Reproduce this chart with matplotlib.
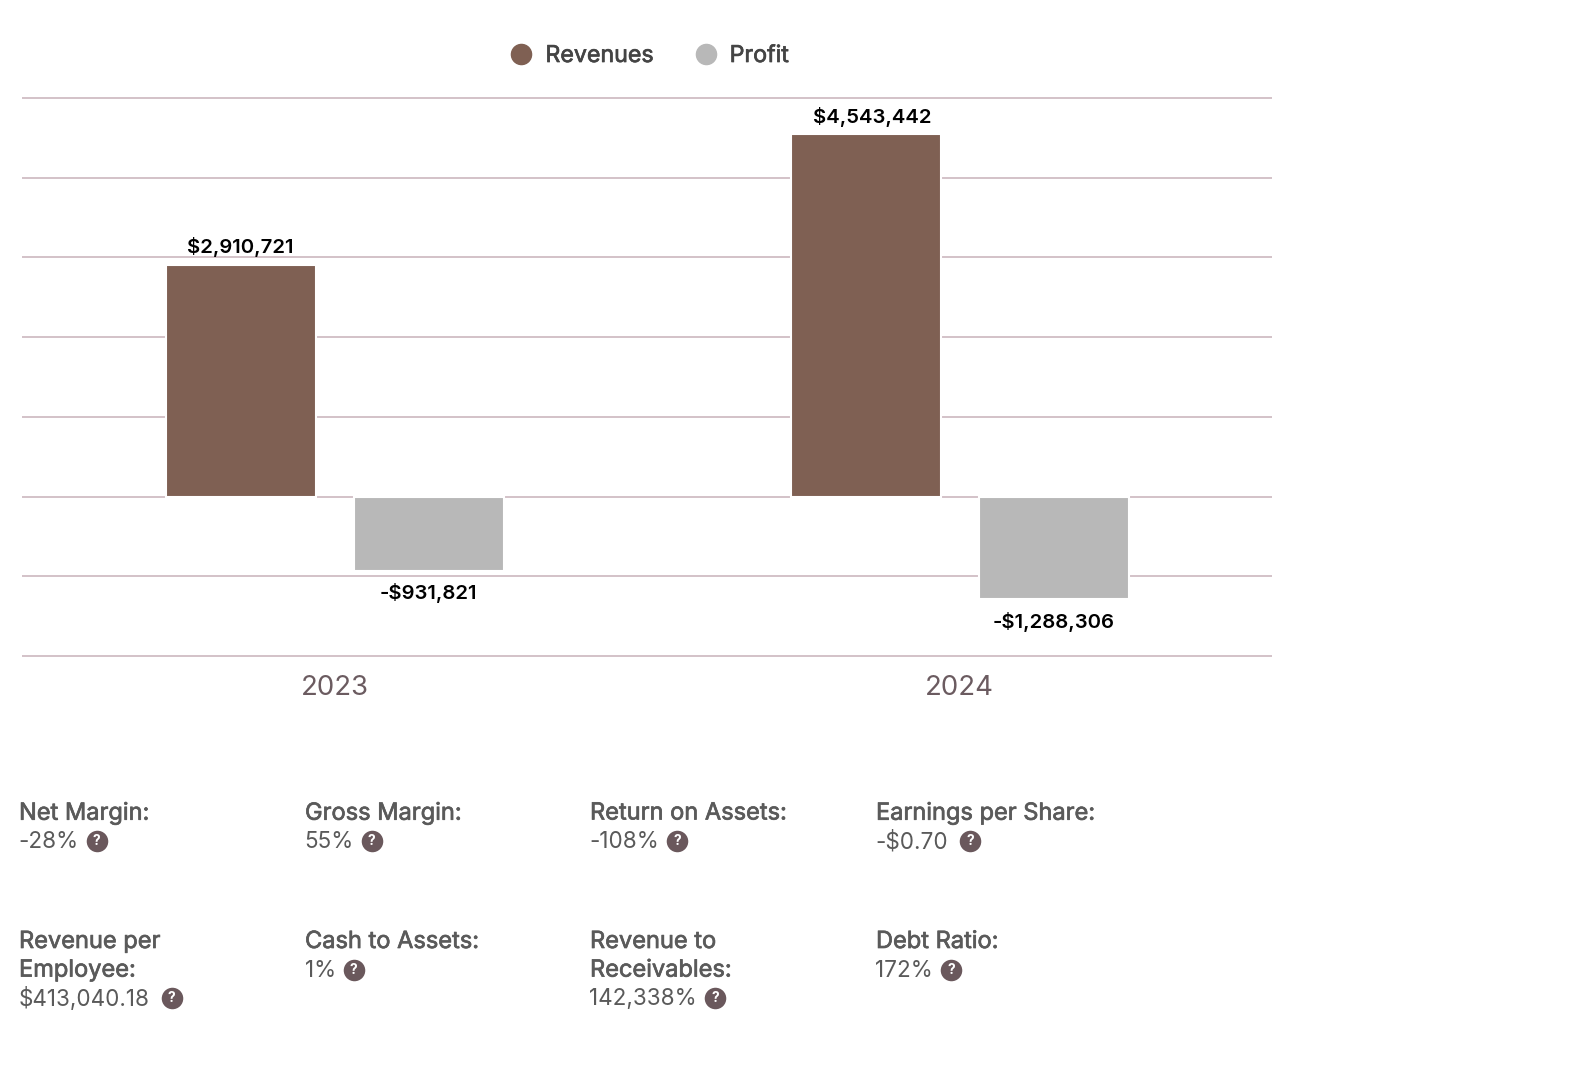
import matplotlib
matplotlib.use("Agg")
import matplotlib.pyplot as plt
import matplotlib.patheffects as pe
from matplotlib.lines import Line2D
import numpy as np

W, H = 1569, 1080
FONT = ["Inter", "DejaVu Sans"]
plt.rcParams["font.family"] = FONT

years = ["2023", "2024"]
revenues = [2910721, 4543442]
profit = [-931821, -1288306]
revenue_labels = ["$2,910,721", "$4,543,442"]
profit_labels = ["-$931,821", "-$1,288,306"]

metric_labels = [
    ["Net Margin:"], ["Gross Margin:"], ["Return on Assets:"], ["Earnings per Share:"],
    ["Revenue per", "Employee:"], ["Cash to Assets:"], ["Revenue to", "Receivables:"], ["Debt Ratio:"],
]
metric_values = ["-28%", "55%", "-108%", "-$0.70", "$413,040.18", "1%", "142,338%", "172%"]
metric_x = [19, 305, 590, 876, 19, 305, 590, 876]
metric_y = [813.5, 813.5, 813.5, 813.5, 942, 942, 942, 942]

BROWN = "#7f6053"
GREY = "#b8b8b8"
GRID = "#d3c2c8"
TICK = "#6b5b60"
TEXT = "#5a5a5a"
BADGE = "#6a585c"

fig = plt.figure(figsize=(W / 100, H / 100), dpi=100, facecolor="white")
left, right, top, bottom = 22, 1272, 98, 656
ax = fig.add_axes([left / W, 1 - bottom / H, (right - left) / W, (bottom - top) / H])
ax.set_xlim(-0.5, 1.5)
ax.set_ylim(-2e6, 5e6)

x = np.arange(len(years))
offset, width = 0.15, 0.24
ax.bar(x - offset, revenues, width, color=BROWN, edgecolor="white", linewidth=1.5, zorder=3)
ax.bar(x + offset + 0.001, profit, width, color=GREY, edgecolor="white", linewidth=1.5, zorder=3)

ax.set_yticks(np.arange(-2e6, 5.5e6, 1e6))
ax.set_yticklabels([])
ax.tick_params(axis="y", length=0)
ax.grid(axis="y", color=GRID, linewidth=1.4, zorder=1)
ax.set_axisbelow(True)
for gl in ax.get_ygridlines():
    gl.set_clip_on(False)
    gl.set_solid_capstyle("butt")
ax.set_xticks(x)
ax.set_xticklabels(years, fontsize=19.8, color=TICK)
ax.tick_params(axis="x", length=0, pad=13.7)
for s in ["top", "right", "left", "bottom"]:
    ax.spines[s].set_visible(False)

for xi, v, t in zip(x, revenues, revenue_labels):
    dx = 0.0 if xi == 0 else 0.011
    ax.annotate(t, (xi - offset + dx, v), xytext=(0, 5.5), textcoords="offset points",
                ha="center", va="bottom", fontsize=14.6, fontweight="semibold", color="black")
for xi, v, t in zip(x, profit, profit_labels):
    ax.annotate(t, (xi + offset, v), xytext=(0, -9), textcoords="offset points",
                ha="center", va="top", fontsize=14.6, fontweight="semibold", color="black")

handles = [
    Line2D([], [], marker="o", linestyle="none", markersize=14.5, color=BROWN),
    Line2D([], [], marker="o", linestyle="none", markersize=14.5, color=GREY),
]
leg = fig.legend(handles, ["Revenues", "Profit"], loc="center", bbox_to_anchor=(643.5 / W, 1 - 56 / H),
                 ncol=2, frameon=False, fontsize=16.7, labelcolor="#444444", handletextpad=0.04,
                 columnspacing=1.25)
medium = [pe.withStroke(linewidth=0.5, foreground=TEXT)]
for t in leg.get_texts():
    t.set_path_effects([pe.withStroke(linewidth=0.5, foreground="#444444")])

ov = fig.add_axes([0, 0, 1, 1], facecolor="none")
ov.set_xlim(0, W)
ov.set_ylim(H, 0)
ov.axis("off")
LINE = 28.6
renderer = fig.canvas.get_renderer()
for lab, val, mx, my in zip(metric_labels, metric_values, metric_x, metric_y):
    y = my
    for ln in lab:
        ov.text(mx, y, ln, fontsize=17, color=TEXT, ha="left", va="center", path_effects=medium)
        y += LINE
    t = ov.text(mx - 0.5, y, val, fontsize=16.2, color=TEXT, ha="left", va="center")
    bb = t.get_window_extent(renderer)
    bx = bb.x1 + (18 if val.endswith("%") else 22)
    ov.plot([bx], [y - 1], marker="o", markersize=15.5, color=BADGE, markeredgewidth=0, linestyle="none")
    ov.text(bx, y - 1, "?", fontsize=10, fontweight="bold", color="white", ha="center", va="center")

fig.savefig("out.png", dpi=100)
